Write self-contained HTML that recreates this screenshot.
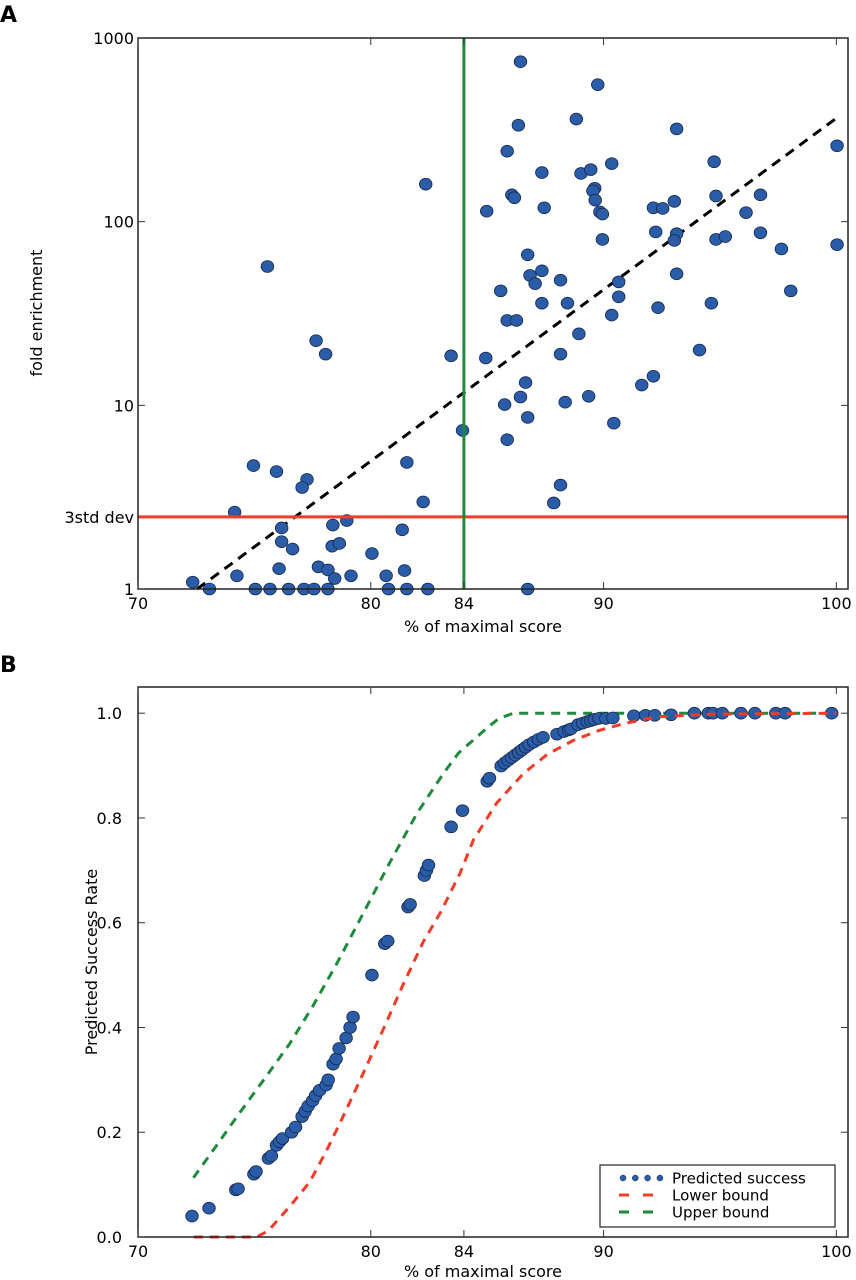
<!DOCTYPE html>
<html><head><meta charset="utf-8"><style>
html,body{margin:0;padding:0;background:#fff;}
svg{display:block;font-family:"DejaVu Sans","Liberation Sans",sans-serif;}
</style></head><body>
<svg id="fig" width="856" height="1280" viewBox="0 0 856 1280"></svg>
<script>
// ---- Panel A data ----
const scatterAX = [82.36,84.98,75.56,77.65,78.06,83.45,84.94,83.94,74.96,75.95,77.26,77.05,81.55,82.25,74.15,76.17,78.37,78.97,81.35,76.17,76.64,78.34,78.65,80.05,76.06,77.75,78.16,74.25,78.45,79.15,80.66,81.45,72.35,73.07,75.04,75.67,76.47,77.13,77.56,78.16,80.76,81.55,82.45,86.74,
86.43,89.75,86.34,88.83,93.14,85.86,100.03,94.75,90.35,87.35,89.03,89.45,86.06,86.17,89.62,89.54,89.64,87.45,89.84,89.95,92.14,92.54,93.04,94.83,96.12,96.74,92.24,93.14,93.04,94.83,95.23,96.74,97.64,100.03,89.95,86.74,86.84,87.06,87.35,88.15,90.65,93.14,85.58,98.04,87.35,88.45,90.65,94.63,85.86,86.26,92.34,90.35,88.94,94.12,88.15,92.14,91.64,86.65,86.43,85.75,88.35,89.36,86.74,90.44,85.86,88.15,87.86];
const scatterAY = [160,114,57,22.5,19,18.6,18.1,7.3,4.7,4.36,3.95,3.57,4.89,2.98,2.62,2.15,2.23,2.36,2.1,1.81,1.65,1.71,1.77,1.56,1.29,1.32,1.27,1.18,1.14,1.18,1.18,1.26,1.09,1,1,1,1,1,1,1,1,1,1,1,
743,557,335,362,320,242,259,212,207,185,183,192,140,135,152,147,131,119,113,110,119,118,129,138,112,140,88,86,79,80,83,87,71,75,80,66,51,46,54,48,47,52,42,42,36,36,39,36,29,29,34,31,24.5,20,19,14.4,12.9,13.3,11.1,10.1,10.4,11.2,8.6,8.0,6.5,3.68,2.94];
const fitA = [72.54, 100, 1, 366];
const thresholdA = 2.47;
const cutoffA = 84;
const yTicksA = [1,10,100,1000];
const xTicks = [70,80,84,90,100];

// ---- Panel B data ----
const predX = [72.32,73.05,74.2,74.3,74.98,75.07,75.6,75.73,75.95,76.08,76.21,76.6,76.77,77.05,77.18,77.31,77.5,77.63,77.8,78.08,78.17,78.38,78.51,78.64,78.94,79.11,79.24,80.05,80.6,80.73,81.6,81.69,82.3,82.39,82.48,83.45,83.94,85.0,85.1,85.6,85.75,85.9,86.05,86.2,86.35,86.5,86.65,86.8,87.0,87.2,87.4,88.0,88.3,88.5,88.6,88.9,89.1,89.3,89.45,89.6,89.8,90.1,90.4,91.3,91.8,92.2,92.9,93.9,94.5,94.7,95.1,95.9,96.5,97.4,97.8,99.8];
const predY = [0.04,0.055,0.09,0.092,0.12,0.125,0.15,0.155,0.175,0.182,0.188,0.2,0.21,0.23,0.24,0.25,0.26,0.27,0.28,0.29,0.3,0.33,0.34,0.36,0.38,0.4,0.42,0.50,0.56,0.565,0.63,0.635,0.69,0.70,0.71,0.783,0.814,0.870,0.876,0.899,0.905,0.91,0.915,0.92,0.925,0.93,0.935,0.94,0.945,0.95,0.954,0.96,0.965,0.968,0.97,0.978,0.981,0.984,0.986,0.988,0.99,0.99,0.991,0.995,0.996,0.996,0.997,1,1,1,1,1,1,1,1,1];
const upperX = [72.38,73.3,74.38,75.4,76.53,77.5,78.54,79.7,80.83,82.0,83.12,83.77,84.41,85.0,85.5,86.13,100];
const upperY = [0.113,0.17,0.238,0.30,0.370,0.44,0.522,0.62,0.716,0.81,0.885,0.924,0.949,0.972,0.99,1.0,1.0];
const lowerX = [72.4,75.1,75.6,76.1,76.7,77.39,78.1,78.82,79.7,80.54,81.4,82.26,83.0,83.84,84.41,85.4,86.56,87.6,88.7,89.8,90.86,92.29,94.44,100];
const lowerY = [0,0,0.012,0.037,0.068,0.106,0.165,0.231,0.315,0.397,0.483,0.564,0.62,0.695,0.758,0.828,0.885,0.922,0.948,0.967,0.98,0.993,0.998,1.0];
const yTicksB = [0.0,0.2,0.4,0.6,0.8,1.0];

const NS = "http://www.w3.org/2000/svg";
const svg = document.getElementById('fig');
function mk(tag, attrs, parent){const e=document.createElementNS(NS,tag);for(const k in attrs)e.setAttribute(k,attrs[k]);(parent||svg).appendChild(e);return e;}

const L=138,R=848,XMIN=70,XMAX=100.5;
const sx = v => L + (v-XMIN)/(XMAX-XMIN)*(R-L);
const AT=38,AB=589;
const syA = v => AB - Math.log10(v)/3*(AB-AT);
const BT=687,BB=1237;
const syB = v => BB - v/1.05*(BB-BT);

const FILL="#2b5ca8", STROKE="#14264a";

function panelFrame(name){
  const g=mk('g',{});
  
  
  return g;
}

// ===== Panel A =====
const gA = panelFrame('panel-a');
let t=mk('text',{x:0,y:22,'font-size':22,'font-weight':'bold'},gA); t.textContent='A';
 
const fit=mk('line',{x1:sx(fitA[0]),y1:syA(fitA[2]),x2:sx(fitA[1]),y2:syA(fitA[3]),stroke:'#000','stroke-width':3,'stroke-dasharray':'10,7'},gA);
 
const ptsA=mk('g',{},gA);
 
for(let i=0;i<scatterAX.length;i++){
  const c=mk('ellipse',{cx:sx(scatterAX[i]),cy:syA(scatterAY[i]),rx:6.3,ry:5.9,fill:FILL,stroke:STROKE,'stroke-width':0.8},ptsA);
  
  
}
const hl=mk('line',{x1:L,x2:R,y1:syA(thresholdA),y2:syA(thresholdA),stroke:'#f03c28','stroke-width':3},gA);
 
const vl=mk('line',{x1:sx(cutoffA),x2:sx(cutoffA),y1:AT,y2:AB,stroke:'#1f8a3c','stroke-width':3},gA);
 
const frA=mk('rect',{x:L,y:AT,width:R-L,height:AB-AT,fill:'none',stroke:'#222','stroke-width':1.5},gA);
 
for(const v of xTicks){
  const x=sx(v);
  mk('line',{x1:x,x2:x,y1:AB,y2:AB-7,stroke:'#333'},gA);
  mk('line',{x1:x,x2:x,y1:AT,y2:AT+7,stroke:'#333'},gA);
  const tl=mk('text',{x:x,y:AB+20,'font-size':16,'text-anchor':'middle'},gA); tl.textContent=v;
   
}
for(const v of yTicksA){
  const y=syA(v);
  mk('line',{x1:L,x2:L+7,y1:y,y2:y,stroke:'#333'},gA);
  mk('line',{x1:R,x2:R-7,y1:y,y2:y,stroke:'#333'},gA);
  const tl=mk('text',{x:L-4,y:y+6,'font-size':16,'text-anchor':'end'},gA); tl.textContent=v;
   
}
t=mk('text',{x:L-4,y:syA(thresholdA)+6,'font-size':16,'text-anchor':'end'},gA); t.textContent='3std dev';
 
t=mk('text',{x:(L+R)/2-10,y:632,'font-size':16,'text-anchor':'middle'},gA); t.textContent='% of maximal score';
 
t=mk('text',{x:0,y:0,'font-size':16,'text-anchor':'middle',transform:'translate(42,313) rotate(-90)'},gA); t.textContent='fold enrichment';
 

// ===== Panel B =====
const gB = panelFrame('panel-b');
t=mk('text',{x:0,y:672,'font-size':22,'font-weight':'bold'},gB); t.textContent='B';
 
function poly(xs,ys,color,name){
  const pts=xs.map((x,i)=>sx(x)+','+syB(ys[i])).join(' ');
  const p=mk('polyline',{points:pts,fill:'none',stroke:color,'stroke-width':3,'stroke-dasharray':'9,7','stroke-linejoin':'round'},gB);
   
}
poly(upperX,upperY,'#1f8a3c','upper-bound-line');
const ptsB=mk('g',{},gB);
 
for(let i=0;i<predX.length;i++){
  const c=mk('ellipse',{cx:sx(predX[i]),cy:syB(predY[i]),rx:6.3,ry:5.9,fill:FILL,stroke:STROKE,'stroke-width':0.8},ptsB);
  
  
}
poly(lowerX,lowerY,'#f03c28','lower-bound-line');
const frB=mk('rect',{x:L,y:BT,width:R-L,height:BB-BT,fill:'none',stroke:'#222','stroke-width':1.5},gB);
 
for(const v of xTicks){
  const x=sx(v);
  mk('line',{x1:x,x2:x,y1:BB,y2:BB-7,stroke:'#333'},gB);
  mk('line',{x1:x,x2:x,y1:BT,y2:BT+7,stroke:'#333'},gB);
  const tl=mk('text',{x:x,y:BB+20,'font-size':16,'text-anchor':'middle'},gB); tl.textContent=v;
   
}
for(const v of yTicksB){
  const y=syB(v);
  mk('line',{x1:L,x2:L+7,y1:y,y2:y,stroke:'#333'},gB);
  mk('line',{x1:R,x2:R-7,y1:y,y2:y,stroke:'#333'},gB);
  const tl=mk('text',{x:L-16,y:y+6,'font-size':16,'text-anchor':'end'},gB); tl.textContent=v.toFixed(1);
   
}
t=mk('text',{x:(L+R)/2-10,y:1277,'font-size':16,'text-anchor':'middle'},gB); t.textContent='% of maximal score';
 
t=mk('text',{x:0,y:0,'font-size':16,'text-anchor':'middle',transform:'translate(97,962) rotate(-90)'},gB); t.textContent='Predicted Success Rate';
 
const lg=mk('g',{},gB);
 
mk('rect',{x:600,y:1165,width:235,height:62,fill:'#fff',stroke:'#222','stroke-width':1.2},lg);
const entries=[['Predicted success','dots'],['Lower bound','#f03c28'],['Upper bound','#1f8a3c']];
entries.forEach((e,i)=>{
  const y=1178+i*17;
  const eg=mk('g',{},lg);
   
  if(e[1]==='dots'){
    for(let k=0;k<4;k++) mk('circle',{cx:623+k*12.3,cy:y,r:3,fill:FILL,stroke:STROKE,'stroke-width':0.5},eg);
  } else {
    mk('line',{x1:619,x2:663,y1:y,y2:y,stroke:e[1],'stroke-width':3,'stroke-dasharray':'10,14'},eg);
  }
  const tx=mk('text',{x:672,y:y+5.5,'font-size':15},eg); tx.textContent=e[0];
});
</script>
</body></html>
